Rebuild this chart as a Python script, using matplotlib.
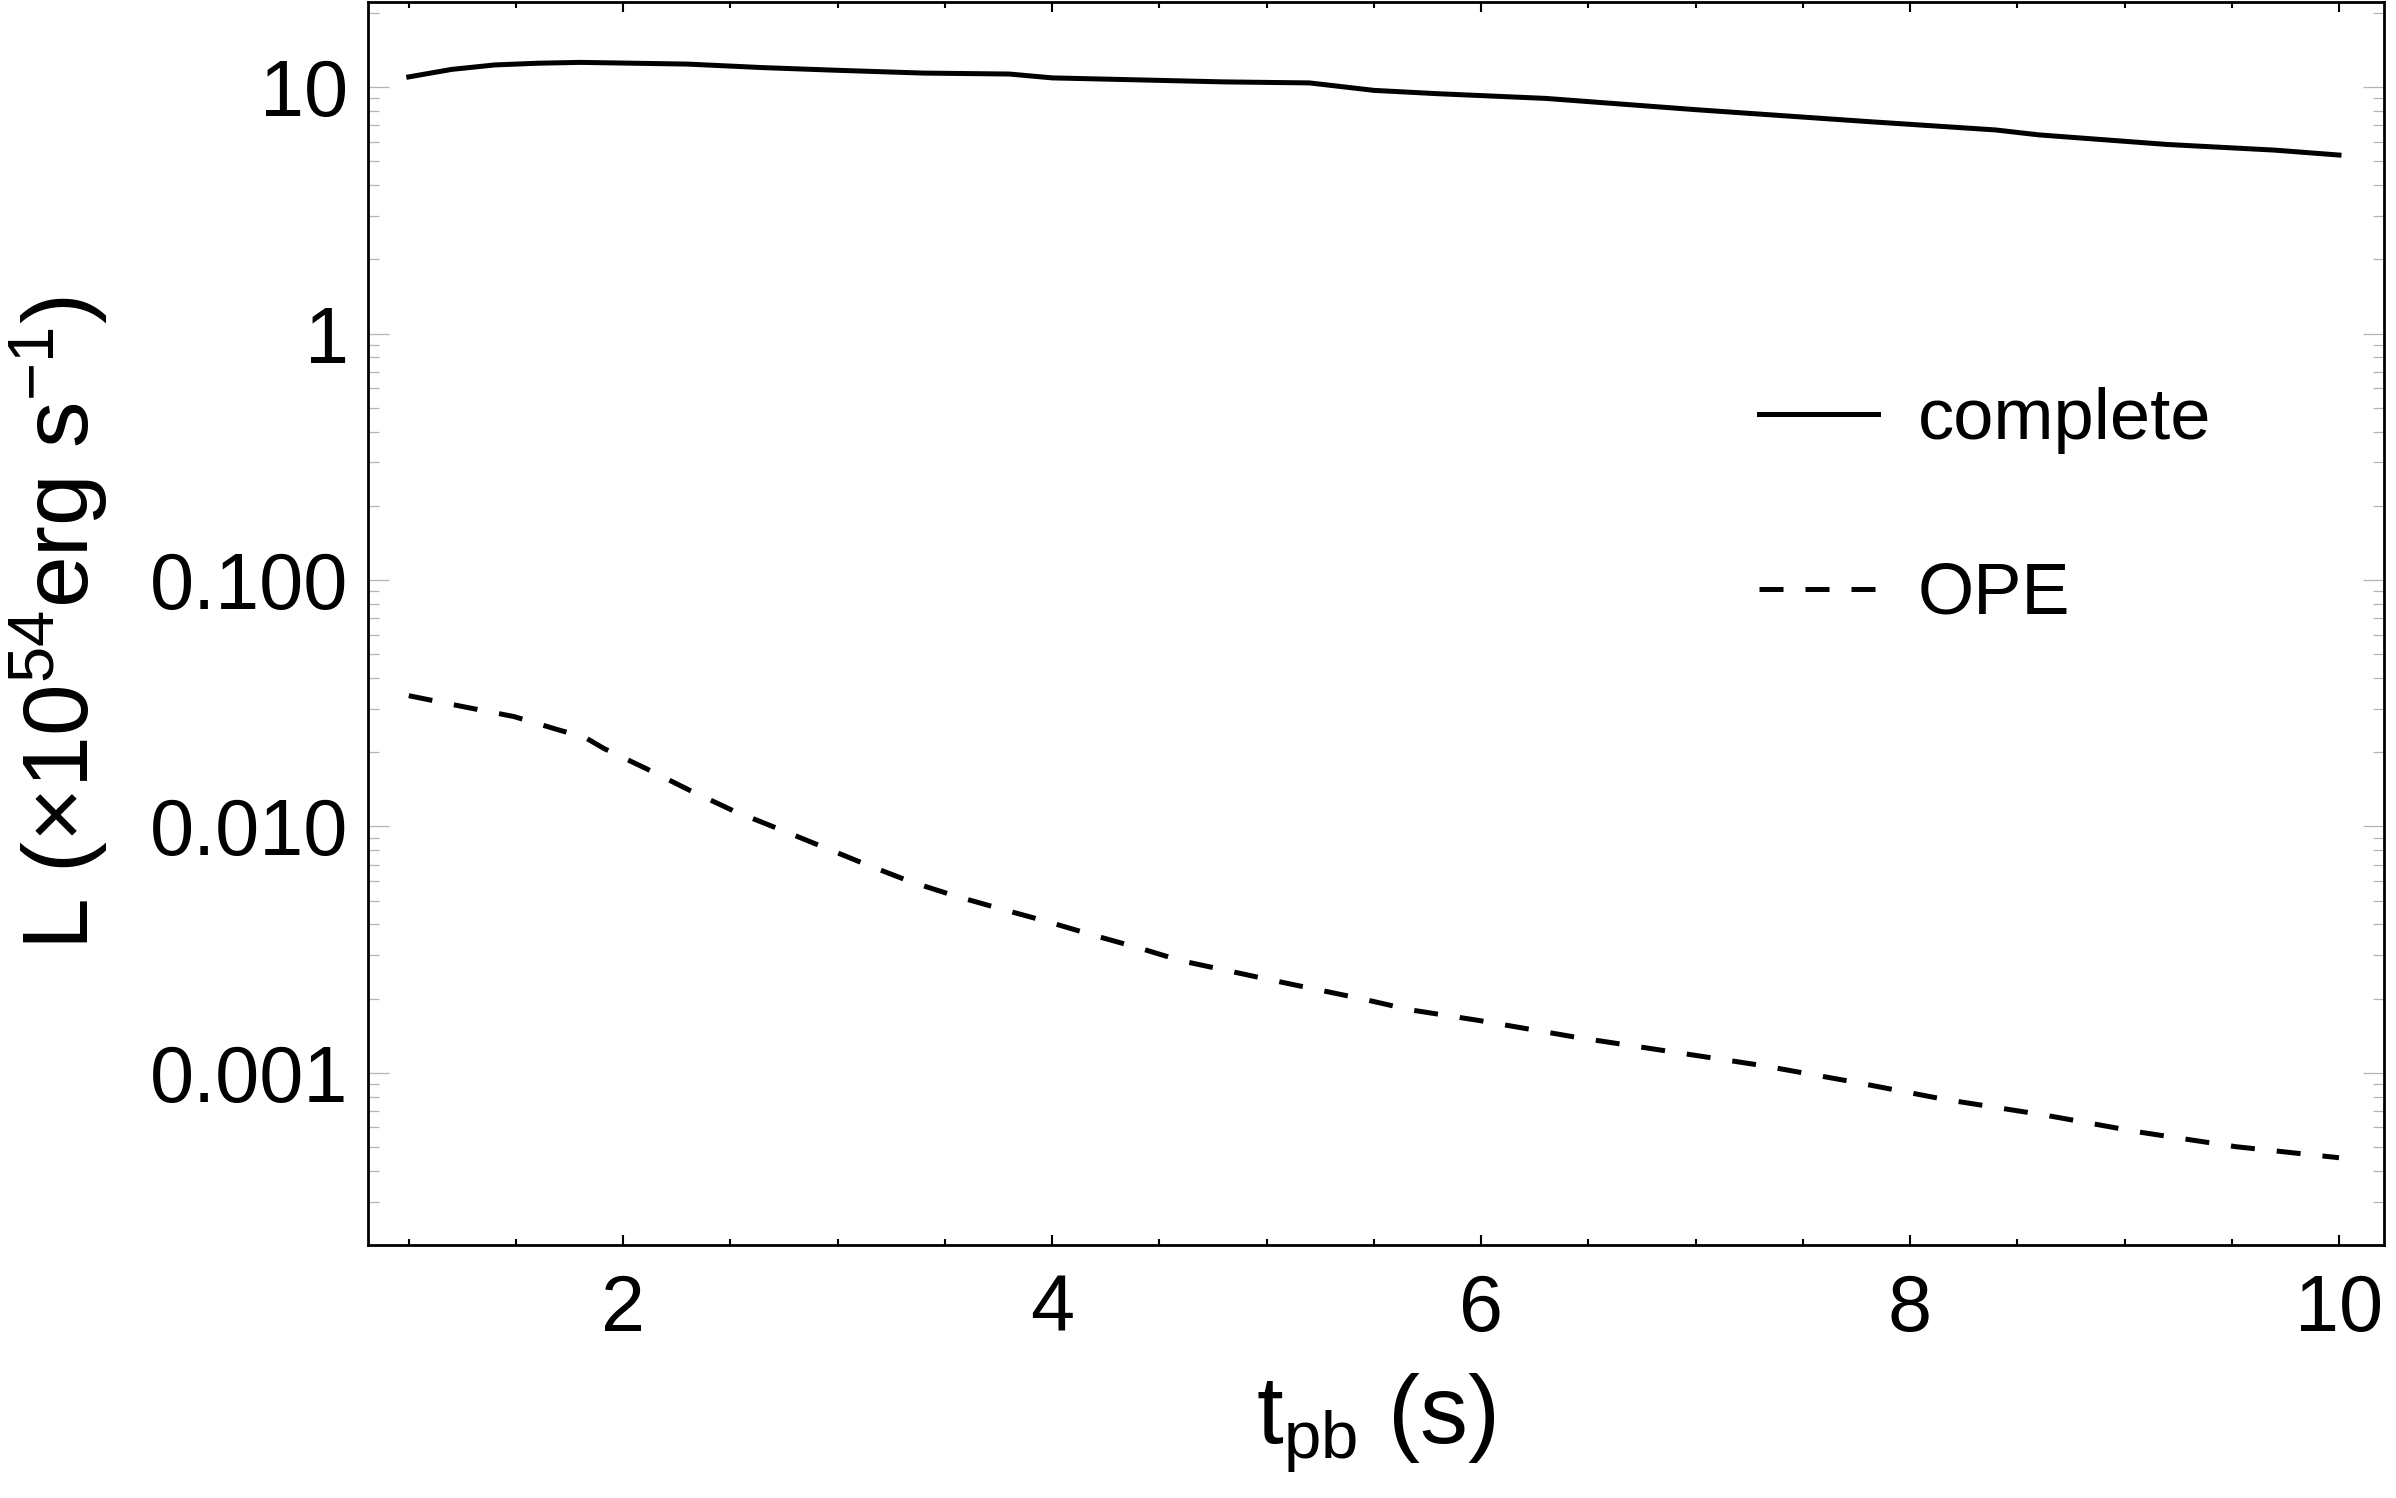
import numpy as np
import matplotlib
matplotlib.use("Agg")
import matplotlib.pyplot as plt
from matplotlib.ticker import MultipleLocator, LogLocator, NullFormatter

# values
t_complete = [1.0, 1.2, 1.4, 1.6, 1.8, 2.3, 2.65, 3.0, 3.4, 3.8, 4.0, 4.4, 4.8, 5.2,
              5.5, 5.8, 6.3, 7.0, 7.8, 8.4, 8.6, 9.2, 9.7, 10.0]
L_complete = [11.0, 11.8, 12.3, 12.5, 12.6, 12.4, 12.0, 11.7, 11.4, 11.3, 10.9, 10.7, 10.5, 10.4,
              9.7, 9.4, 9.0, 8.1, 7.25, 6.7, 6.4, 5.85, 5.55, 5.3]

t_ope = [1.0, 1.27, 1.49, 1.7, 1.82, 1.91, 2.11, 2.31, 2.51, 2.72, 2.93, 3.14, 3.34,
         3.55, 3.77, 3.98, 4.19, 4.41, 4.6, 5.02, 5.45, 5.67, 5.99, 6.45, 6.88, 7.31,
         7.73, 8.16, 8.63, 9.06, 9.52, 10.0]
L_ope = [0.0339, 0.0304, 0.0279, 0.0246, 0.0230, 0.0207, 0.0171, 0.0140, 0.0116, 0.0098,
         0.00826, 0.00696, 0.00596, 0.00521, 0.00460, 0.00410, 0.00362, 0.00320, 0.00285,
         0.00238, 0.00199, 0.00180, 0.00163, 0.00139, 0.00122, 0.00107, 0.00092, 0.00078,
         0.000673, 0.000576, 0.000501, 0.000452]

y_ticks = [0.001, 0.01, 0.1, 1, 10]
y_ticklabels = ["0.001", "0.010", "0.100", "1", "10"]
x_ticks = [2, 4, 6, 8, 10]

plt.rcParams['font.family'] = ['Liberation Sans', 'DejaVu Sans']
plt.rcParams['mathtext.fontset'] = 'custom'
plt.rcParams['mathtext.rm'] = 'Liberation Sans'

fig, ax = plt.subplots(figsize=(23.96, 14.98), dpi=100)
fig.subplots_adjust(left=0.1536, right=0.995, bottom=0.1689, top=0.9985)

ax.plot(t_complete, L_complete, color='black', lw=3.6, label='complete')
ax.plot(t_ope, L_ope, color='black', lw=3.6, linestyle=(0, (4.8, 4.4)), label='OPE')

ax.set_yscale('log')
ax.set_xlim(0.81, 10.21)
ax.set_ylim(2.0e-4, 22.1)

ax.set_xticks(x_ticks)
ax.xaxis.set_minor_locator(MultipleLocator(0.5))
ax.set_yticks(y_ticks)
ax.set_yticklabels(y_ticklabels)
ax.yaxis.set_minor_locator(LogLocator(base=10, subs=np.arange(2, 10)))
ax.yaxis.set_minor_formatter(NullFormatter())

ax.tick_params(axis='x', which='both', direction='in', top=True, bottom=True,
               color='black', width=1.5, labelsize=57, pad=20)
ax.tick_params(axis='x', which='major', length=7)
ax.tick_params(axis='x', which='minor', length=4)
ax.tick_params(axis='y', which='both', direction='in', left=True, right=True,
               color='#b4b4b4', width=0.9, labelsize=57, pad=14)
ax.tick_params(axis='y', which='major', length=15)
ax.tick_params(axis='y', which='minor', length=8)

for s in ax.spines.values():
    s.set_linewidth(2.0)

ax.set_xlabel(r't$\mathregular{_{pb}}$ (s)', fontsize=69)
ax.set_ylabel(r'L (×10$\mathregular{^{54}}$erg s$\mathregular{^{-1}}$)', fontsize=67)
ax.xaxis.set_label_coords(0.5, -0.102)
ax.yaxis.set_label_coords(-0.128, 0.5)

ax.legend(loc='center left', bbox_to_anchor=(0.69, 0.593), frameon=False,
          fontsize=52, handlelength=1.65, handletextpad=0.55, labelspacing=1.49,
          borderpad=0, borderaxespad=0)

fig.savefig('out.png', dpi=100)
